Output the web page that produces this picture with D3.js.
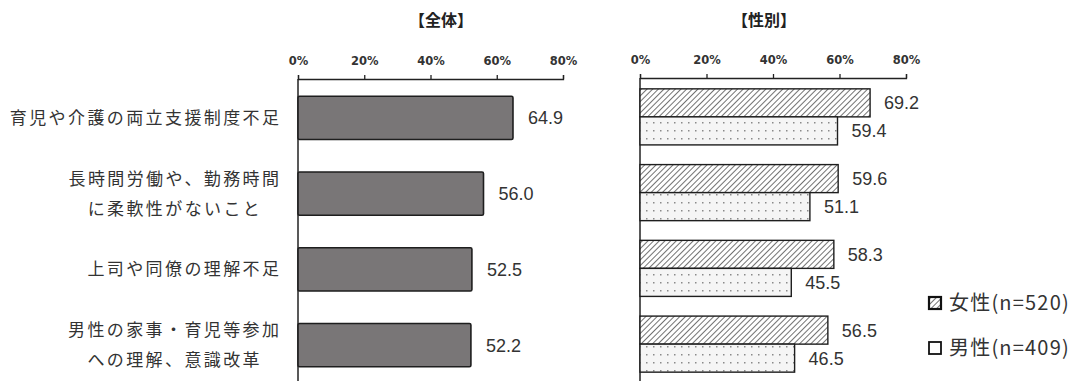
<!DOCTYPE html>
<html><head><meta charset="utf-8">
<script src="https://cdn.jsdelivr.net/npm/d3@7"></script>
<style>
body{margin:0;background:#fff;}
svg{display:block;}
</style></head>
<body>
<svg id="chart" width="1082" height="381"></svg>
<script>
const categories = [
  ["育児や介護の両立支援制度不足"],
  ["長時間労働や、勤務時間","に柔軟性がないこと"],
  ["上司や同僚の理解不足"],
  ["男性の家事・育児等参加","への理解、意識改革"]
];
const totalValues = [64.9, 56.0, 52.5, 52.2];
const femaleValues = [69.2, 59.6, 58.3, 56.5];
const maleValues = [59.4, 51.1, 45.5, 46.5];
const tickValues = [0, 20, 40, 60, 80];
const seriesNames = ["女性(n=520)", "男性(n=409)"];
const titles = ["【全体】", "【性別】"];

const svg = d3.select("#chart");
const jp = "'Noto Sans CJK JP','Noto Sans',sans-serif";
const catIdx = categories.map((d,i)=>i);

// patterns
const defs = svg.append("defs");
const hatch = defs.append("pattern").attr("id","hatch").attr("patternUnits","userSpaceOnUse")
  .attr("width",4).attr("height",4).attr("patternTransform","rotate(45)");
hatch.append("rect").attr("width",4).attr("height",4).attr("fill","#fff");
hatch.append("line").attr("x1",0).attr("y1",0).attr("x2",0).attr("y2",4)
  .attr("stroke","#444").attr("stroke-width",1.5);
const dots = defs.append("pattern").attr("id","dots").attr("patternUnits","userSpaceOnUse")
  .attr("width",7).attr("height",8);
dots.append("rect").attr("width",7).attr("height",8).attr("fill","#f5f5f5");
dots.append("rect").attr("x",2).attr("y",2).attr("width",1.5).attr("height",1.5).attr("fill","#8a8a8a");

// ---------- Left chart ----------
const xL = d3.scaleLinear().domain([0,80]).range([298,563]);
const yL = d3.scaleBand().domain(catIdx).range([80,383]).paddingInner(0.43).paddingOuter(0.215);

const axL = svg.append("g").attr("transform","translate(0,79)")
  .call(d3.axisTop(xL).tickValues(tickValues).tickFormat(d=>d+"%").tickSize(4).tickSizeOuter(4));
function styleAxis(ax){
  ax.select(".domain").attr("stroke","#222").attr("stroke-width",1.3);
  ax.selectAll(".tick line").attr("stroke","#222").attr("stroke-width",1.3);
  ax.selectAll(".tick text").attr("font-family","'DejaVu Sans',sans-serif").attr("font-weight","bold")
    .attr("font-size",11.5).attr("fill","#333").attr("dy","-0.6em");
}
styleAxis(axL);
svg.append("line").attr("x1",xL(0)).attr("x2",xL(0)).attr("y1",79).attr("y2",381)
  .attr("stroke","#222").attr("stroke-width",1.5);

svg.append("g").selectAll("rect").data(totalValues).join("rect")
  .attr("x",xL(0)).attr("y",(d,i)=>yL(i)).attr("width",d=>xL(d)-xL(0)).attr("height",yL.bandwidth())
  .attr("rx",1.5).attr("fill","#797677").attr("stroke","#1e1e1e").attr("stroke-width",1.6);

svg.append("g").selectAll("text").data(totalValues).join("text")
  .attr("x",d=>xL(d)+15).attr("y",(d,i)=>yL(i)+yL.bandwidth()/2).attr("dy","0.36em")
  .attr("font-family","'Liberation Sans',Arial,sans-serif").attr("font-size",18).attr("fill","#333")
  .text(d=>d.toFixed(1));

// category labels
const labelRight = 279;
const lineH = 30;
const ls = 2.4;
categories.forEach((lines,i)=>{
  const cy = yL(i)+yL.bandwidth()/2;
  const g = svg.append("g");
  const texts = lines.map((t,j)=>g.append("text")
    .attr("font-family",jp).attr("font-size",17).attr("letter-spacing",ls).attr("fill","#333")
    .attr("y",cy+(j-(lines.length-1)/2)*lineH).attr("dy","0.36em").text(t));
  const widths = texts.map(t=>t.node().getComputedTextLength()-ls);
  const maxW = d3.max(widths);
  const center = labelRight - maxW/2;
  texts.forEach((t,j)=>t.attr("x",center-widths[j]/2));
});

// ---------- Right chart ----------
const xR = d3.scaleLinear().domain([0,80]).range([640,906]);
const yR = d3.scaleBand().domain(catIdx).range([79,382]).paddingInner(0.26).paddingOuter(0.13);
const ySub = d3.scaleBand().domain([0,1]).range([0,yR.bandwidth()]);

const axR = svg.append("g").attr("transform","translate(0,78)")
  .call(d3.axisTop(xR).tickValues(tickValues).tickFormat(d=>d+"%").tickSize(4).tickSizeOuter(4));
styleAxis(axR);
svg.append("line").attr("x1",xR(0)).attr("x2",xR(0)).attr("y1",78).attr("y2",381)
  .attr("stroke","#222").attr("stroke-width",1.5);

const series = [femaleValues, maleValues];
const fills = ["url(#hatch)","url(#dots)"];
series.forEach((vals,s)=>{
  svg.append("g").selectAll("rect").data(vals).join("rect")
    .attr("x",xR(0)).attr("y",(d,i)=>yR(i)+ySub(s)).attr("width",d=>xR(d)-xR(0)).attr("height",ySub.bandwidth())
    .attr("fill",fills[s]).attr("stroke","#1e1e1e").attr("stroke-width",1.4);
  svg.append("g").selectAll("text").data(vals).join("text")
    .attr("x",d=>xR(d)+14).attr("y",(d,i)=>yR(i)+ySub(s)+ySub.bandwidth()/2).attr("dy","0.36em")
    .attr("font-family","'Liberation Sans',Arial,sans-serif").attr("font-size",18).attr("fill","#333")
    .text(d=>d.toFixed(1));
});

// legend
const legY = [303, 348];
seriesNames.forEach((name,s)=>{
  svg.append("rect").attr("x",929).attr("y",legY[s]-6).attr("width",12).attr("height",12)
    .attr("fill",s===0?"url(#hatch)":"#fff").attr("stroke","#111").attr("stroke-width",s===0?2.2:1.8);
  svg.append("text").attr("x",949).attr("y",legY[s]).attr("dy","0.36em")
    .attr("font-family",jp).attr("font-size",20).attr("letter-spacing",1.2).attr("fill","#333").text(name);
});

// titles
svg.append("text").attr("x",441).attr("y",20).attr("dy","0.36em").attr("text-anchor","middle")
  .attr("font-family",jp).attr("font-weight","bold").attr("font-size",16).attr("fill","#222").text(titles[0]);
svg.append("text").attr("x",764).attr("y",20).attr("dy","0.36em").attr("text-anchor","middle")
  .attr("font-family",jp).attr("font-weight","bold").attr("font-size",16).attr("fill","#222").text(titles[1]);
</script>
</body></html>
